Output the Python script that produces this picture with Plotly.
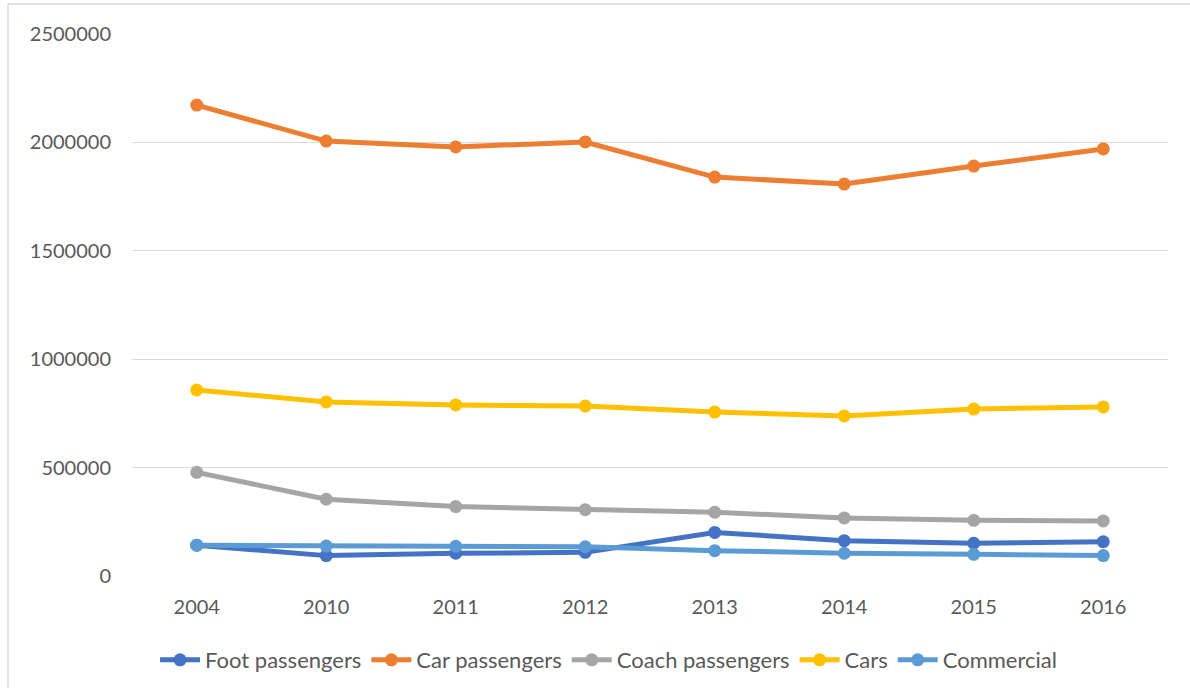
import plotly.graph_objects as go

years = ["2004", "2010", "2011", "2012", "2013", "2014", "2015", "2016"]
foot_passengers = [142000, 94000, 105000, 109000, 201000, 163000, 151000, 158000]
car_passengers = [2172000, 2006000, 1979000, 2002000, 1840000, 1808000, 1891000, 1970000]
coach_passengers = [478000, 354000, 320000, 306000, 294000, 268000, 257000, 254000]
cars = [858000, 803000, 789000, 784000, 756000, 738000, 770000, 780000]
commercial = [142000, 138000, 137000, 135000, 117000, 105000, 100000, 94000]
y_ticks = [0, 500000, 1000000, 1500000, 2000000, 2500000]

series = [
    ("Foot passengers", foot_passengers, "#4472C4"),
    ("Car passengers", car_passengers, "#ED7D31"),
    ("Coach passengers", coach_passengers, "#A5A5A5"),
    ("Cars", cars, "#FFC000"),
    ("Commercial", commercial, "#5B9BD5"),
]

fig = go.Figure()
for name, vals, col in series:
    fig.add_trace(go.Scatter(
        x=years, y=vals, name=name, mode="lines+markers",
        line=dict(color=col, width=5),
        marker=dict(color=col, size=13),
    ))

font_family = "Lato, 'Open Sans', sans-serif"
border = dict(color="#D9D9D9", width=1.5)
fig.update_layout(
    width=1190, height=694,
    margin=dict(l=132, r=22, t=34, b=118),
    paper_bgcolor="white", plot_bgcolor="white",
    font=dict(family=font_family, size=20, color="#595959"),
    showlegend=True,
    legend=dict(orientation="h", x=0.46, xanchor="center", y=-0.155, yanchor="middle",
                font=dict(size=22, color="#595959"), itemwidth=40, tracegroupgap=0),
    xaxis=dict(type="category", range=[-0.5, len(years) - 0.5], showgrid=False,
               showline=False, zeroline=False,
               ticks="", ticklabelstandoff=17, tickfont=dict(size=20)),
    yaxis=dict(range=[0, 2500000], tickvals=y_ticks, ticktext=[str(v) for v in y_ticks],
               showgrid=True, gridcolor="#D9D9D9", gridwidth=1.3, zeroline=False,
               showline=False, ticks="", ticklabelstandoff=20, tickfont=dict(size=20)),
    shapes=[
        dict(type="line", xref="paper", yref="paper",
             x0=-0.1197, x1=1.03, y0=1.0554, y1=1.0554, line=border, layer="below"),
        dict(type="line", xref="paper", yref="paper",
             x0=-0.1197, x1=-0.1197, y0=1.0554, y1=-0.2066, line=border, layer="below"),
    ],
)

fig.write_html("out.html", config={"displayModeBar": False},
               post_script="document.body.style.margin='0';")
